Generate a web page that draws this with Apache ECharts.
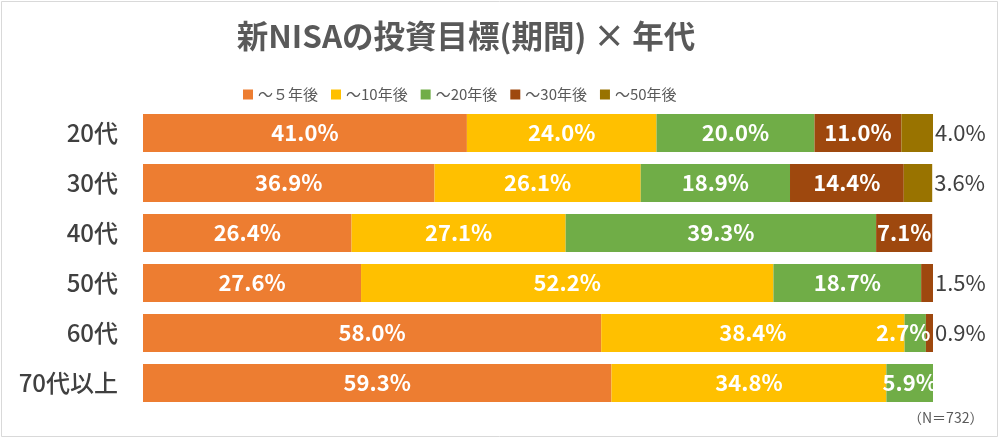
<!DOCTYPE html>
<html>
<head>
<meta charset="utf-8">
<script src="https://cdn.jsdelivr.net/npm/echarts@6/dist/echarts.min.js"></script>
<style>
html,body{margin:0;padding:0;background:#fff;}
#c{width:1000px;height:439px;}
</style>
</head>
<body>
<div id="c"></div>
<script>
const categories = ['20代', '30代', '40代', '50代', '60代', '70代以上'];
const seriesNames = ['～５年後', '～10年後', '～20年後', '～30年後', '～50年後'];
const s5 = [41.0, 36.9, 26.4, 27.6, 58.0, 59.3];
const s10 = [24.0, 26.1, 27.1, 52.2, 38.4, 34.8];
const s20 = [20.0, 18.9, 39.3, 18.7, 2.7, 5.9];
const s30 = [11.0, 14.4, 7.1, 1.5, 0.9, 0];
const s50 = [4.0, 3.6, 0, 0, 0, 0];
const colors = ['#ED7D31', '#FFC000', '#70AD47', '#9E480E', '#997300'];
const noteText = '（N＝732）';
const titleText = '新NISAの投資目標(期間) × 年代';

const allSeries = [s5, s10, s20, s30, s50];
const FONT = '"Noto Sans CJK JP", "Noto Sans", sans-serif';

function lastNonZero(ci) {
  let last = -1;
  allSeries.forEach((arr, si) => { if (arr[ci] > 0) last = si; });
  return last;
}

const series = allSeries.map((arr, si) => ({
  name: seriesNames[si],
  type: 'bar',
  stack: 'total',
  barWidth: 38,
  itemStyle: { color: colors[si] },
  label: {
    show: true,
    position: 'inside',
    color: '#ffffff',
    fontFamily: FONT,
    fontWeight: 'bold',
    fontSize: 22,
    formatter: p => p.value > 0 ? p.value.toFixed(1) + '%' : ''
  },
  data: arr.map((v, ci) => {
    const item = { value: v };
    if (v > 0 && v < 5 && lastNonZero(ci) === si) {
      item.label = { position: 'right', distance: 2, color: '#404040', fontWeight: 'normal' };
    } else if (v > 0 && v < 5) {
      item.label = { offset: [-12, 0] };
    }
    return item;
  })
}));

const chart = echarts.init(document.getElementById('c'), null, { renderer: 'canvas' });
chart.setOption({
  animation: false,
  backgroundColor: '#ffffff',
  title: {
    text: titleText,
    left: 461,
    top: 15,
    textAlign: 'center',
    textStyle: { fontFamily: FONT, fontSize: 31.5, fontWeight: 'bold', color: '#595959' }
  },
  legend: {
    left: 238,
    top: 82,
    itemWidth: 10,
    itemHeight: 10,
    itemGap: 13,
    icon: 'rect',
    textStyle: { fontFamily: FONT, fontSize: 15, color: '#595959' },
    data: seriesNames
  },
  grid: { left: 143, right: 67, top: 108, bottom: 31, containLabel: false },
  xAxis: { type: 'value', min: 0, max: 100, show: false },
  yAxis: {
    type: 'category',
    data: categories,
    inverse: true,
    axisLine: { show: false },
    axisTick: { show: false },
    axisLabel: { margin: 25, fontFamily: FONT, fontSize: 24, fontWeight: 500, color: '#404040' }
  },
  graphic: [
    { type: 'rect', shape: { x: 1.5, y: 1.5, width: 996, height: 435 }, style: { fill: null, stroke: '#d9d9d9', lineWidth: 1 }, silent: true },
    { type: 'text', left: 908, top: 411, style: { text: noteText, fontFamily: FONT, fontSize: 14, fill: '#595959' } }
  ],
  series: series
});
</script>
</body>
</html>
